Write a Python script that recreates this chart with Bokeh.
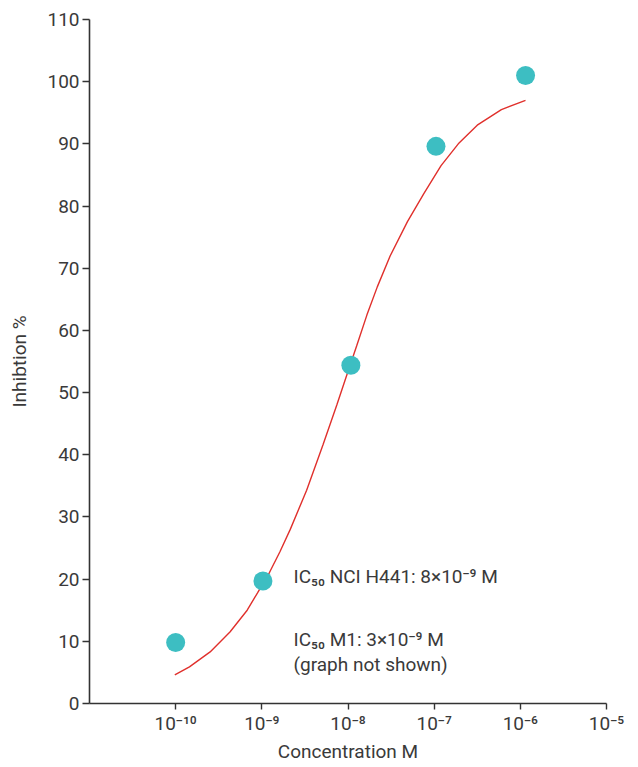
from bokeh.plotting import figure
from bokeh.models import FixedTicker, Label, Range1d
from bokeh.embed import file_html
from bokeh.resources import INLINE

# ---- data ----
conc = [1.0e-10, 1.03e-9, 1.08e-8, 1.05e-7, 1.15e-6]          # M
inhibition = [9.8, 19.7, 54.4, 89.6, 101.0]                    # %

curve_log_conc = [-10.01, -9.84, -9.60, -9.37, -9.17, -9.05, -8.91, -8.79, -8.67,
                  -8.48, -8.29, -8.13, -8.01, -7.90, -7.78, -7.66, -7.51, -7.31,
                  -7.12, -6.92, -6.72, -6.50, -6.22, -5.94]
curve_inhibition = [4.6, 5.9, 8.3, 11.5, 15.0, 17.8, 21.1, 24.4, 28.0,
                    34.3, 41.6, 48.0, 53.0, 57.5, 62.5, 67.0, 72.0, 77.5,
                    82.0, 86.5, 90.0, 93.0, 95.5, 97.0]
curve_conc = [10 ** v for v in curve_log_conc]

x_ticks = [1e-10, 1e-9, 1e-8, 1e-7, 1e-6, 1e-5]
x_tick_labels = ["10⁻¹⁰", "10⁻⁹", "10⁻⁸", "10⁻⁷", "10⁻⁶", "10⁻⁵"]
y_ticks = [0, 10, 20, 30, 40, 50, 60, 70, 80, 90, 100, 110]

FONT = "Roboto"
TXT = "#3a3a3a"
AX = "#333333"
FS = "19px"

p = figure(width=630, height=765, x_axis_type="log",
           x_range=Range1d(1e-11, 1e-5), y_range=Range1d(0, 110),
           output_backend="svg", toolbar_location=None,
           min_border_left=89, min_border_top=19, min_border_bottom=60,
           min_border_right=24)
p.outline_line_color = None
p.grid.visible = False
p.background_fill_color = "white"

# fitted curve
p.line(curve_conc, curve_inhibition, line_color="#e0302c", line_width=1.4)
# measured points
p.scatter(conc, inhibition, size=19, fill_color="#3dbec2", line_color=None)

# x axis
xa = p.xaxis[0]
xa.ticker = FixedTicker(ticks=x_ticks)
xa.major_label_overrides = {t: l for t, l in zip(x_ticks, x_tick_labels)}
xa.minor_tick_line_color = None
xa.major_tick_out = 6
xa.major_tick_in = 0
xa.major_label_standoff = 2
xa.axis_line_color = AX
xa.axis_line_width = 1.6
xa.major_tick_line_color = AX
xa.major_tick_line_width = 1.4
xa.major_label_text_font = FONT
xa.major_label_text_font_size = FS
xa.major_label_text_color = TXT
xa.axis_label = "Concentration M"
xa.axis_label_text_font = FONT
xa.axis_label_text_font_size = FS
xa.axis_label_text_font_style = "normal"
xa.axis_label_text_color = TXT
xa.axis_label_standoff = 2

# y axis
ya = p.yaxis[0]
ya.ticker = FixedTicker(ticks=y_ticks)
ya.minor_tick_line_color = None
ya.major_tick_out = 7
ya.major_tick_in = 0
ya.major_label_standoff = 3
ya.axis_line_color = AX
ya.axis_line_width = 1.6
ya.major_tick_line_color = AX
ya.major_tick_line_width = 1.4
ya.major_label_text_font = FONT
ya.major_label_text_font_size = FS
ya.major_label_text_color = TXT
ya.axis_label = "Inhibtion %"
ya.axis_label_text_font = FONT
ya.axis_label_text_font_size = FS
ya.axis_label_text_font_style = "normal"
ya.axis_label_text_color = TXT
ya.axis_label_standoff = 13

# annotations
ann_x = 2.33e-9
for y, t in [(20.4, "IC₅₀ NCI H441: 8×10⁻⁹ M"),
             (10.3, "IC₅₀ M1: 3×10⁻⁹ M"),
             (6.2, "(graph not shown)")]:
    p.add_layout(Label(x=ann_x, y=y, text=t, text_align="left",
                       text_baseline="middle", text_font=FONT, text_font_size=FS,
                       text_color=TXT))

open("out.html", "w").write(file_html(p, INLINE))
